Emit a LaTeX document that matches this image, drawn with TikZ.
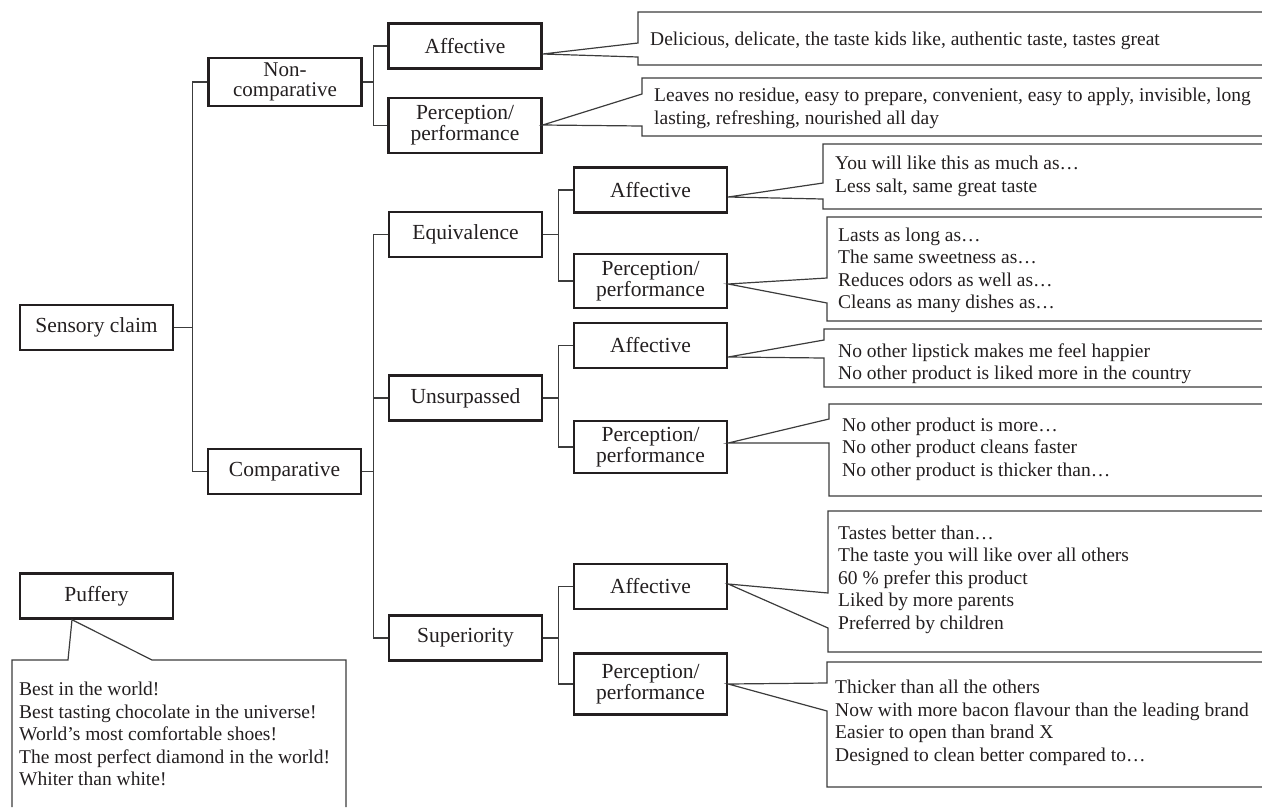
\documentclass[tikz,border=0pt]{standalone}
\usepackage{fontspec}
\setmainfont{Liberation Serif}
\definecolor{boxink}{HTML}{231F20}
\definecolor{lineink}{HTML}{3C3C3C}

\begin{document}
\begin{tikzpicture}[x=1pt,y=-1pt,
 claim/.style={draw=boxink,line width=2.4pt,text=boxink,align=center,
  minimum width=153pt,minimum height=45pt,inner sep=0pt,
  font=\fontsize{21.5}{21}\selectfont},
 link/.style={lineink,line width=1.2pt},
 bubble/.style={lineink,line width=1.2pt},
 quote/.style={anchor=west,align=left,inner sep=0pt,text=boxink,
  font=\fontsize{19.5}{22.5}\selectfont}]
 \useasboundingbox (0,0) rectangle (1262,807);
 % claim tree
 \node[claim] (sensory) at (96.5,327.5) {Sensory claim};
 \node[claim,minimum height=48pt,font=\fontsize{21}{19.5}\selectfont] (noncomp) at (285,82) {Non-\\comparative};
 \node[claim] (comp) at (284.5,471.5) {Comparative};
 \node[claim] (aff1) at (465,46) {Affective};
 \node[claim,minimum height=55pt] (per1) at (465,125.5) {Perception/\\performance};
 \node[claim] (equiv) at (465.5,234.5) {Equivalence};
 \node[claim] (unsurp) at (465.5,398) {Unsurpassed};
 \node[claim] (superior) at (465.5,638) {Superiority};
 \node[claim] (aff2) at (650.5,190) {Affective};
 \node[claim,minimum height=54pt] (per2) at (650.5,281) {Perception/\\performance};
 \node[claim] (aff3) at (650.5,345.5) {Affective};
 \node[claim,minimum height=52pt] (per3) at (650.5,447) {Perception/\\performance};
 \node[claim] (aff4) at (650.5,586.5) {Affective};
 \node[claim,minimum height=61pt] (per4) at (650.5,684) {Perception/\\performance};
 \node[claim] (puff) at (96.5,596) {Puffery};

 \draw[link] (sensory.east) -- ++(18,0) coordinate (jroot);
 \draw[link] (noncomp.west) -| (jroot) |- (comp.west);
 \draw[link] (noncomp.east) -- ++(11,0) coordinate (jnon);
 \draw[link] (aff1.west) -| (jnon) |- (per1.west);
 \draw[link] (comp.east) -- ++(11,0) coordinate (jcomp);
 \draw[link] (equiv.west) -| (jcomp) |- (superior.west);
 \draw[link] (unsurp.west) -- (unsurp.west -| jcomp);
 \foreach \p/\a/\b in {equiv/aff2/per2,unsurp/aff3/per3,superior/aff4/per4} {
  \draw[link] (\p.east) -- ++(15,0) coordinate (j\p);
  \draw[link] (\a.west) -| (j\p) |- (\b.west);}

 % example bubbles, open to the right
 \foreach \n/\tip/\lx/\yt/\yb/\yu/\yl in {aff1/54/638/12/65/43/57,
   per1/125/642/78/136/94/126, aff2/197/823/144/209/183/199,
   per2/284/827/217/321/278/303, aff3/357/824/329/387/340/358,
   per3/443/829/404/496/419/443, aff4/584/828/511/652/593/628,
   per4/684/827/662/787/683/711}
  \draw[bubble] (1262,\yt) -- (\lx,\yt) -- (\lx,\yu) -- (\n.east |- 0,\tip)
   -- (\lx,\yl) -- (\lx,\yb) -- (1262,\yb);
 \draw[bubble] (12,807) -- (12,660) -- (68,660) -- (puff.south -| 72,0)
  -- (152,660) -- (346,660) -- (346,807);

 \node[quote] (qaff1) at (650,41) {Delicious, delicate, the taste kids like, authentic taste, tastes great};
 \node[quote] (qper1) at (654,108.5) {Leaves no residue, easy to prepare, convenient, easy to apply, invisible, long\\lasting, refreshing, nourished all day};
 \node[quote] (qaff2) at (835,176.5) {You will like this as much as…\\Less salt, same great taste};
 \node[quote] (qper2) at (838,270.5) {Lasts as long as…\\The same sweetness as…\\Reduces odors as well as…\\Cleans as many dishes as…};
 \node[quote] (qaff3) at (838,363.5) {No other lipstick makes me feel happier\\No other product is liked more in the country};
 \node[quote] (qper3) at (842,449) {No other product is more…\\No other product cleans faster\\No other product is thicker than…};
 \node[quote] (qaff4) at (838,579.5) {Tastes better than…\\The taste you will like over all others\\60 \% prefer this product\\Liked by more parents\\Preferred by children};
 \node[quote] (qper4) at (835,723) {Thicker than all the others\\Now with more bacon flavour than the leading brand\\Easier to open than brand X\\Designed to clean better compared to…};
 \node[quote] (qpuff) at (19,734) {Best in the world!\\Best tasting chocolate in the universe!\\World’s most comfortable shoes!\\The most perfect diamond in the world!\\Whiter than white!};
\end{tikzpicture}
\end{document}
